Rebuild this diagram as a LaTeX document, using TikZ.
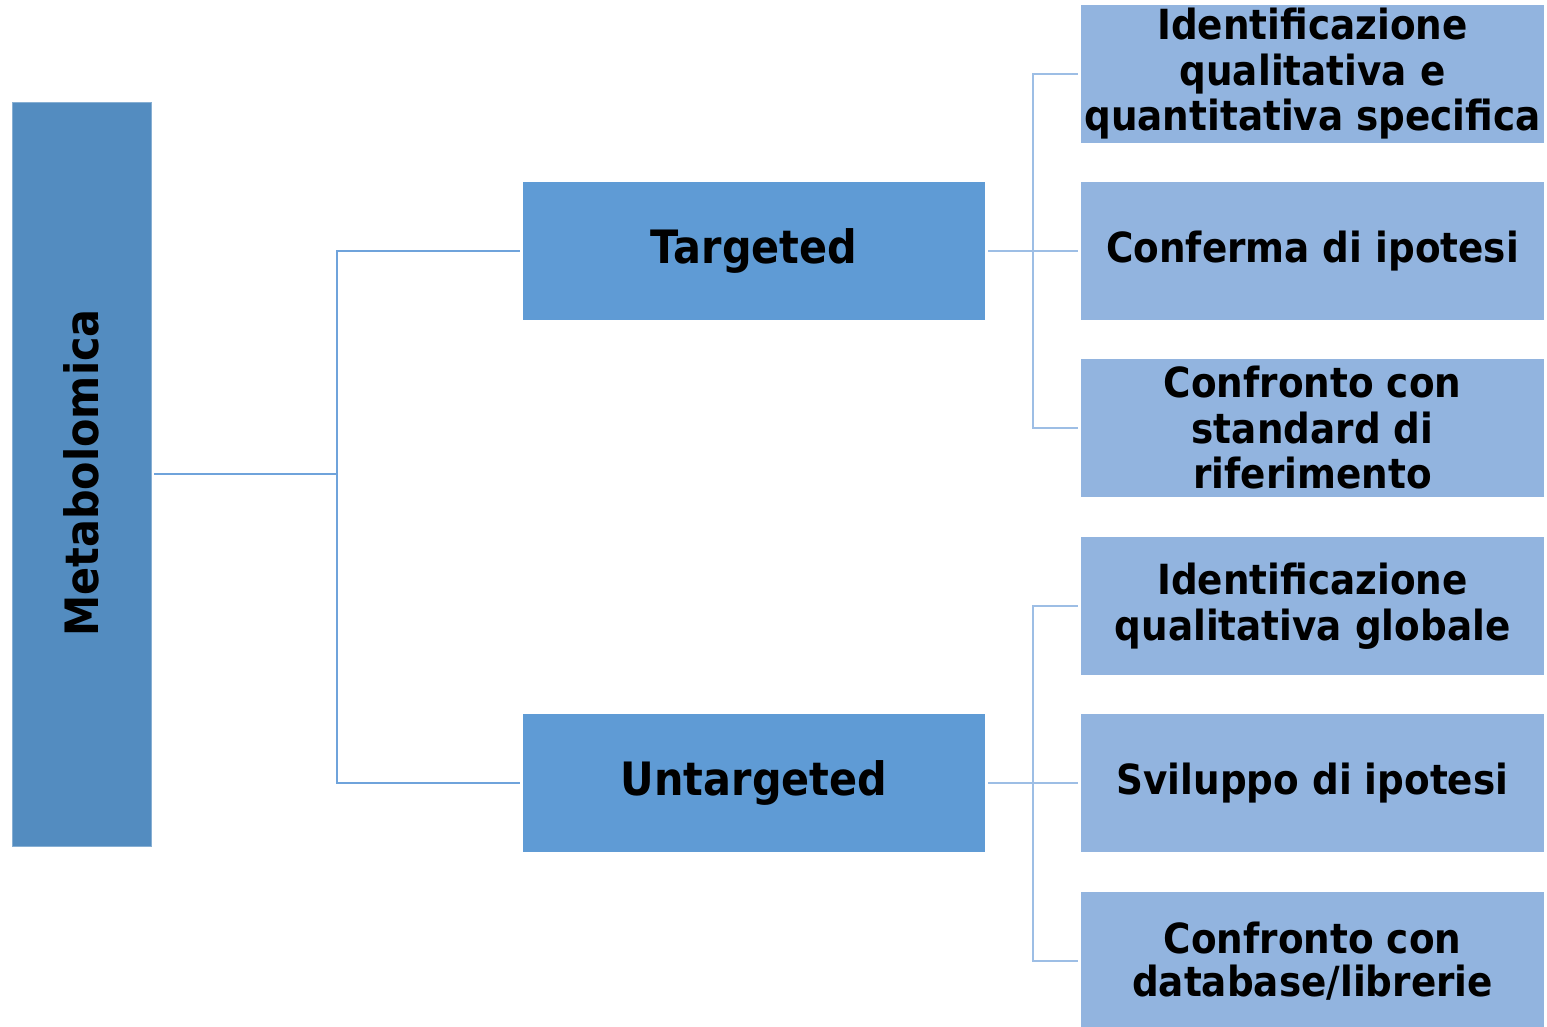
\documentclass[tikz,border=0pt]{standalone}
\usepackage{fontspec}
\setmainfont{DejaVu Sans}[FakeStretch=0.9]
\definecolor{cMeta}{HTML}{538CC0}
\definecolor{cMid}{HTML}{5F9BD5}
\definecolor{cLeaf}{HTML}{92B4DF}
\definecolor{cLineL}{HTML}{6FA3DB}
\definecolor{cLineR}{HTML}{9DBEE5}
\begin{document}
\begin{tikzpicture}[x=1pt,y=-1pt,
  metabox/.style={fill=cMeta,draw=cMeta!70!white,line width=0.8pt,minimum width=139pt,minimum height=744pt,inner sep=0pt,
    font=\bfseries\fontsize{46}{50}\selectfont},
  midbox/.style={fill=cMid,minimum width=462pt,minimum height=138pt,inner sep=0pt,
    font=\bfseries\fontsize{46}{50}\selectfont},
  leafbox/.style={fill=cLeaf,minimum width=463pt,minimum height=138pt,inner sep=0pt,align=center,
    font=\bfseries\fontsize{41.5}{45.5}\selectfont},
  lineL/.style={draw=cLineL,line width=2pt},
  lineR/.style={draw=cLineR,line width=2pt}]
\useasboundingbox (0,0) rectangle (1547,1027);
\node[metabox] (meta) at (81.5,474) {};
\node[rotate=90,font=\bfseries\fontsize{46}{50}\selectfont] (metatxt) at (81.5,473) {Metabolomica};
\node[midbox] (targ) at (754,251) {Targeted};
\node[midbox] (untarg) at (754,783) {Untargeted};
\node[leafbox] (r1) at (1312.5,74) {Identificazione\\qualitativa e\\quantitativa specifica};
\node[leafbox] (r2) at (1312.5,251) {Conferma di ipotesi};
\node[leafbox] (r3) at (1312.5,428) {Confronto con\\standard di\\riferimento};
\node[leafbox] (r4) at (1312.5,606) {Identificazione\\qualitativa globale};
\node[leafbox] (r5) at (1312.5,783) {Sviluppo di ipotesi};
\node[leafbox,font=\bfseries\fontsize{41.5}{43}\selectfont] (r6) at (1312.5,961) {Confronto con\\database/librerie};
\coordinate (j1) at (337,474);
\coordinate (hA) at (1033,251);
\coordinate (hB) at (1033,783);
\draw[lineL,shorten <=3pt] (meta.east) -- (j1);
\draw[lineL,shorten <=3pt] (targ.west) -| (j1);
\draw[lineL,shorten <=3pt] (untarg.west) -| (j1);
\draw[lineR,shorten <=3pt,shorten >=3pt] (targ.east) -- (r2.west);
\draw[lineR,shorten <=3pt] (r1.west) -| (hA);
\draw[lineR,shorten <=3pt] (r3.west) -| (hA);
\draw[lineR,shorten <=3pt,shorten >=3pt] (untarg.east) -- (r5.west);
\draw[lineR,shorten <=3pt] (r4.west) -| (hB);
\draw[lineR,shorten <=3pt] (r6.west) -| (hB);
\end{tikzpicture}
\end{document}
